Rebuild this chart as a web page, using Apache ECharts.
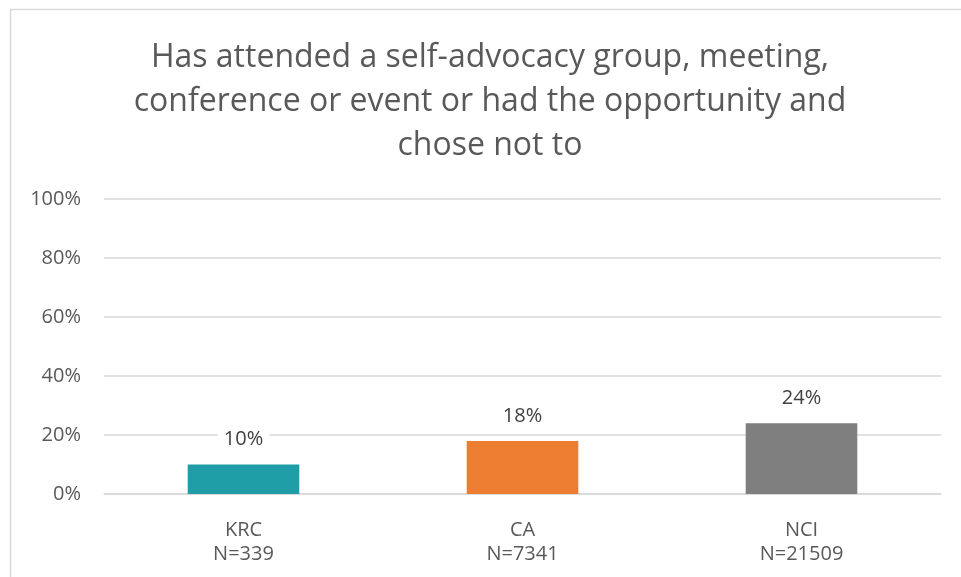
<!DOCTYPE html>
<html>
<head>
<meta charset="utf-8">
<script src="https://cdn.jsdelivr.net/npm/echarts@6/dist/echarts.min.js"></script>
<style>
  html, body { margin: 0; padding: 0; background: #fff; }
  #chart { width: 961px; height: 577px; }
</style>
</head>
<body>
<div id="chart"></div>
<script>
// Groups along the x axis and their sample sizes
const categories = ['KRC', 'CA', 'NCI'];
const sampleSizes = ['N=339', 'N=7341', 'N=21509'];
// Percent of people in each group
const values = [10, 18, 24];
const barColors = ['#1f9ea8', '#ed7d31', '#7f7f7f'];
// Y axis ticks
const yTicks = [0, 20, 40, 60, 80, 100];

const FONT = '"Open Sans", sans-serif';
const chart = echarts.init(document.getElementById('chart'), null, { renderer: 'canvas' });

chart.setOption({
  backgroundColor: '#ffffff',
  animation: false,
  title: {
    text: 'Has attended a self-advocacy group, meeting,\nconference or event or had the opportunity and\nchose not to',
    left: 485,
    textAlign: 'center',
    top: 31,
    textStyle: {
      color: '#595959',
      fontFamily: FONT,
      fontWeight: 'normal',
      fontSize: 32,
      lineHeight: 44
    }
  },
  graphic: [{
    type: 'rect',
    shape: { x: 10.5, y: 9.5, width: 1000, height: 1000 },
    style: { fill: 'none', stroke: '#d9d9d9', lineWidth: 1.5 },
    silent: true
  }],
  grid: { left: 104, right: 20, top: 199, bottom: 83 },
  xAxis: {
    type: 'category',
    data: categories.map((c, i) => c + '\n' + sampleSizes[i]),
    axisLine: { lineStyle: { color: '#d9d9d9', width: 1.5 } },
    axisTick: { show: false },
    axisLabel: {
      color: '#595959',
      fontFamily: FONT,
      fontSize: 20,
      lineHeight: 24,
      margin: 24
    }
  },
  yAxis: {
    type: 'value',
    min: yTicks[0],
    max: yTicks[yTicks.length - 1],
    interval: yTicks[1] - yTicks[0],
    axisLine: { show: false },
    axisTick: { show: false },
    splitLine: { lineStyle: { color: '#d9d9d9', width: 1.5 } },
    axisLabel: {
      color: '#595959',
      fontFamily: FONT,
      fontSize: 20,
      margin: 23,
      formatter: v => v + '%'
    }
  },
  series: [{
    type: 'bar',
    barWidth: '40%',
    data: values.map((v, i) => ({ value: v, itemStyle: { color: barColors[i] } })),
    label: {
      show: true,
      position: 'top',
      distance: 15,
      color: '#404040',
      fontFamily: FONT,
      fontSize: 20,
      backgroundColor: '#ffffff',
      padding: [0, 6],
      formatter: p => p.value + '%'
    }
  }]
});
</script>
</body>
</html>
